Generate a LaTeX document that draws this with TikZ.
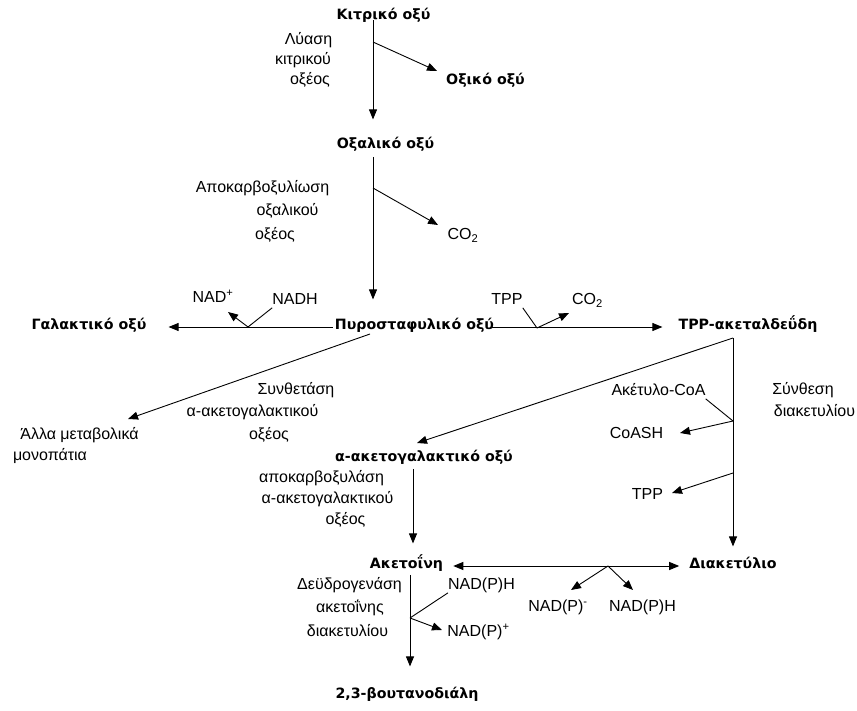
\documentclass[tikz,border=0pt]{standalone}
\usepackage{fontspec}
\setmainfont{Liberation Sans}
\newfontfamily\boldgr{DejaVu Sans}
\usetikzlibrary{arrows.meta}
\begin{document}
\begin{tikzpicture}[x=1pt,y=-1pt,
  txt/.style={inner sep=0pt, anchor=mid, text height=10pt, text depth=3pt,
    font=\fontsize{16}{18}\selectfont},
  bld/.style={inner sep=0pt, anchor=mid, text height=10pt, text depth=3pt,
    font=\boldgr\bfseries\fontsize{14.2}{16}\selectfont},
  ln/.style={line width=0.9pt, black},
  arr/.style={ln, -{Triangle[length=10pt,width=8pt]}},
  darr/.style={ln, {Triangle[length=10pt,width=8pt]}-{Triangle[length=10pt,width=8pt]}}]
\useasboundingbox (0,0) rectangle (857,711);

% ---------- nodes ----------
\node[bld] (kit)  at (383.5,17)  {Κιτρικό οξύ};
\node[txt] (lys1) at (308.5,42)  {Λύαση};
\node[txt] (lys2) at (303,62)    {κιτρικού};
\node[txt] (lys3) at (310,82)    {οξέος};
\node[bld] (oxik) at (485.5,82)  {Οξικό οξύ};
\node[bld] (oxal) at (385.5,146) {Οξαλικό οξύ};
\node[txt] (apo1) at (262.5,190) {Αποκαρβοξυλίωση};
\node[txt] (apo2) at (287.5,213) {οξαλικού};
\node[txt] (apo3) at (275,237)   {οξέος};
\node[txt] (co2a) at (463,237)   {CO\textsubscript{2}};
\node[txt] (nadp) at (213,300)   {NAD\textsuperscript{+}};
\node[txt] (nadh) at (295,302)   {NADH};
\node[bld] (gal)  at (89,327)    {Γαλακτικό οξύ};
\node[bld] (pyr)  at (414.5,327) {Πυροσταφυλικό οξύ};
\node[txt] (tpp1) at (507,302)   {TPP};
\node[txt] (co2b) at (587.5,302) {CO\textsubscript{2}};
\node[bld] (tppa) at (748,327)   {TPP-ακεταλδεΰδη};
\node[txt] (syn1) at (296,392)   {Συνθετάση};
\node[txt] (syn2) at (252.5,414) {α-ακετογαλακτικού};
\node[txt] (syn3) at (269,437)   {οξέος};
\node[txt] (alle1) at (79.5,437) {Άλλα μεταβολικά};
\node[txt] (alle2) at (50,458)   {μονοπάτια};
\node[txt] (acet) at (658.5,393) {Ακέτυλο-CoA};
\node[txt] (coash) at (636.5,436) {CoASH};
\node[txt] (sdi1) at (803,392)   {Σύνθεση};
\node[txt] (sdi2) at (814.5,414) {διακετυλίου};
\node[bld] (aak)  at (424,459)   {α-ακετογαλακτικό οξύ};
\node[txt] (apk1) at (321.5,480) {αποκαρβοξυλάση};
\node[txt] (apk2) at (327.5,501) {α-ακετογαλακτικού};
\node[txt] (apk3) at (345.5,522) {οξέος};
\node[txt] (tpp2) at (647.5,497) {TPP};
\node[bld] (akt)  at (406.5,566) {Ακετοΐνη};
\node[bld] (dia)  at (733,566)   {Διακετύλιο};
\node[txt] (dey1) at (349.5,587) {Δεϋδρογενάση};
\node[txt] (dey2) at (350,610)   {ακετοΐνης};
\node[txt] (dey3) at (347.5,634) {διακετυλίου};
\node[txt] (nph1) at (481.5,587) {NAD(P)H};
\node[txt] (npp)  at (478.5,634) {NAD(P)\textsuperscript{+}};
\node[txt] (npm)  at (558,609)   {NAD(P)\textsuperscript{-}};
\node[txt] (nph2) at (642.5,609) {NAD(P)H};
\node[bld] (but)  at (407,696)   {2,3-βουτανοδιάλη};

% ---------- junctions and tips ----------
\coordinate (j1) at (373,42);   \coordinate (t1) at (437,71);
\coordinate (j2) at (373,188);  \coordinate (t2) at (438,225);
\coordinate (j3) at (248,327);  \coordinate (t3) at (228,312);
\coordinate (j4) at (537,328);  \coordinate (t4) at (569,313);
\coordinate (ps) at (370,334);  \coordinate (t5) at (128,419);
\coordinate (tj) at (733,338);  \coordinate (t6) at (417,443);
\coordinate (j6) at (733,421);  \coordinate (t7) at (680,433);
\coordinate (j7) at (733,473);  \coordinate (t8) at (672,493);
\coordinate (j8) at (608,566);  \coordinate (t9) at (571,590);
\coordinate (t10) at (633,590);
\coordinate (ax) at (413,0);
\coordinate (bx) at (410,0);
\coordinate (j9) at (410,618);  \coordinate (t11) at (442,630);

% ---------- main flow ----------
\draw[arr, shorten <=-3pt, shorten >=19pt] (kit.south -| j1) -- (oxal.north -| j1);
\draw[arr, shorten <=5pt, shorten >=20pt] (oxal.south -| j2) -- (pyr.north -| j2);
\draw[arr, shorten <=2pt, shorten >=22pt] (pyr.mid west) -- (gal.mid east);
\draw[arr, shorten <=-2pt, shorten >=16pt] (pyr.mid east) -- (tppa.mid west);
\draw[arr] (ps) -- (t5);
\draw[arr] (tj) -- (t6);
\draw[arr, shorten >=12pt] (tj) -- (dia.north -| tj);
\draw[arr, shorten <=4pt, shorten >=15pt] (aak.south -| ax) -- (akt.north -| ax);
\draw[darr, shorten <=10pt, shorten >=10pt] (akt.mid east) -- (dia.mid west);
\draw[arr, shorten <=3pt, shorten >=22pt] (akt.south -| bx) -- (but.north -| bx);

% ---------- side branches ----------
\draw[arr] (j1) -- (t1);
\draw[arr] (j2) -- (t2);
\draw[ln] (nadh.south west) -- (j3);
\draw[arr] (j3) -- (t3);
\draw[ln] (tpp1.south east) -- (j4);
\draw[arr] (j4) -- (t4);
\draw[ln] (acet.south east) -- (j6);
\draw[arr] (j6) -- (t7);
\draw[arr] (j7) -- (t8);
\draw[arr] (j8) -- (t9);
\draw[arr] (j8) -- (t10);
\draw[ln] (nph1.south west) -- (j9);
\draw[arr] (j9) -- (t11);
\end{tikzpicture}
\end{document}
